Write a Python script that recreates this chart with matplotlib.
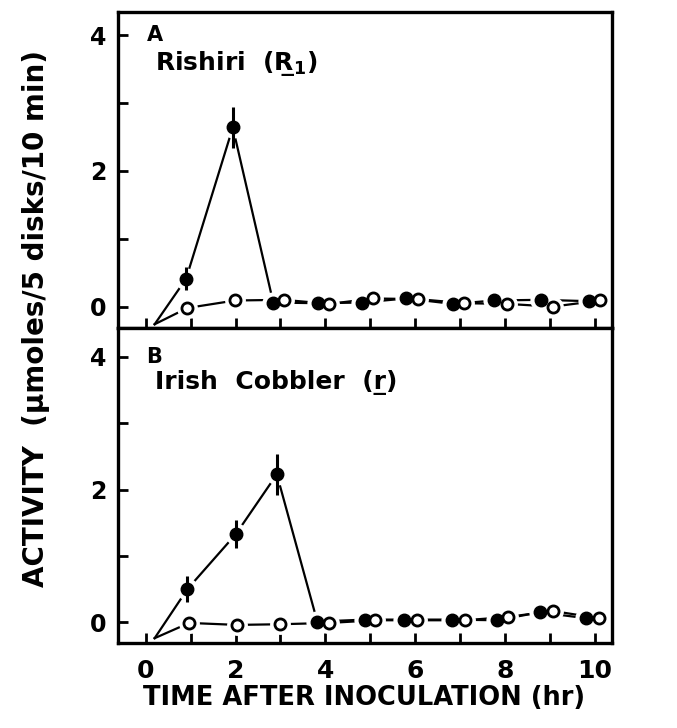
import matplotlib
matplotlib.use('Agg')
import matplotlib.pyplot as plt

# Dati (tempo in hr, attivita')
# Pannello A - Rishiri
A_origin_t, A_origin_y = 0.2, -0.26
A_fill_t = [0.90, 1.94, 2.84, 3.84, 4.81, 5.80, 6.84, 7.76, 8.80, 9.86]
A_fill_y = [0.41, 2.64, 0.06, 0.05, 0.06, 0.12, 0.04, 0.09, 0.10, 0.08]
A_fill_err = [0.17, 0.30, 0, 0, 0, 0, 0, 0, 0, 0]
A_open_t = [0.93, 1.99, 3.07, 4.09, 5.07, 6.07, 7.09, 8.04, 9.06, 10.12]
A_open_y = [-0.02, 0.09, 0.10, 0.04, 0.12, 0.11, 0.05, 0.04, 0.00, 0.09]

# Pannello B - Irish Cobbler
B_origin_t, B_origin_y = 0.2, -0.24
B_fill_t = [0.93, 2.01, 2.92, 3.82, 4.88, 5.75, 6.81, 7.82, 8.77, 9.81]
B_fill_y = [0.50, 1.33, 2.23, 0.01, 0.04, 0.04, 0.04, 0.03, 0.15, 0.06]
B_fill_err = [0.20, 0.21, 0.31, 0, 0, 0, 0, 0, 0, 0]
B_open_t = [0.97, 2.03, 2.99, 4.09, 5.11, 6.04, 7.10, 8.06, 9.06, 10.10]
B_open_y = [-0.01, -0.04, -0.03, -0.01, 0.03, 0.03, 0.03, 0.08, 0.17, 0.06]

x_ticks = list(range(0, 11))
x_labels = ['0', '', '2', '', '4', '', '6', '', '8', '', '10']
y_ticks = [0, 1, 2, 3, 4]
y_labels = ['0', '', '2', '', '4']

plt.rcParams['font.family'] = 'DejaVu Sans'
plt.rcParams['font.weight'] = 'bold'

fig = plt.figure(figsize=(6.77, 7.28), dpi=100)
axA = fig.add_axes([0.174, 0.549, 0.730, 0.4345])
axB = fig.add_axes([0.174, 0.117, 0.730, 0.432])


def disegna(ax, t0, y0, ft, fy, fe, ot, oy, ylim, lettera, testo, testo_y):
    lw = 1.6
    # linee (partono dall'origine senza marker)
    ax.plot([t0] + ft, [y0] + fy, color='k', lw=lw, zorder=1)
    ax.plot([t0] + ot, [y0] + oy, color='k', lw=lw, zorder=1)
    # alone bianco per lasciare lo spazio tra linea e marker
    ax.plot(ft, fy, 'o', color='white', ms=16, mec='none', zorder=2)
    ax.plot(ot, oy, 'o', color='white', ms=15, mec='none', zorder=2)
    # barre d'errore
    ax.errorbar(ft, fy, yerr=fe, fmt='none', ecolor='k', elinewidth=2.2,
                capsize=0, zorder=3)
    # marker
    ax.plot(ft, fy, 'o', color='k', ms=9, mec='k', zorder=4)
    ax.plot(ot, oy, 'o', mfc='white', mec='k', ms=8, mew=2.0, zorder=4)

    ax.set_xlim(-0.62, 10.38)
    ax.set_ylim(*ylim)
    ax.set_xticks(x_ticks)
    ax.set_yticks(y_ticks)
    ax.set_yticklabels(y_labels, fontsize=17, fontweight='bold')
    ax.tick_params(direction='in', length=7, width=2, top=False, right=False)
    ax.tick_params(axis='y', pad=8)
    ax.tick_params(axis='x', pad=12)
    for sp in ax.spines.values():
        sp.set_linewidth(2.4)
    ax.text(0.02, 4.0, lettera, fontsize=15, fontweight='bold', va='center', ha='left')
    ax.text(0.2, testo_y, testo, fontsize=18, fontweight='bold', va='center', ha='left')


disegna(axA, A_origin_t, A_origin_y, A_fill_t, A_fill_y, A_fill_err,
        A_open_t, A_open_y, (-0.32, 4.34), 'A',
        'Rishiri  (R\u0332$_{\\mathbf{1}}$)', 3.58)
disegna(axB, B_origin_t, B_origin_y, B_fill_t, B_fill_y, B_fill_err,
        B_open_t, B_open_y, (-0.31, 4.43), 'B',
        'Irish  Cobbler  (r\u0332)', 3.62)

axA.set_xticklabels([])
axB.set_xticklabels(x_labels, fontsize=18, fontweight='bold')

fig.text(0.538, 0.041, 'TIME AFTER INOCULATION (hr)', fontsize=18.5,
         fontweight='bold', ha='center', va='center')
fig.text(0.053, 0.563, 'ACTIVITY  (\u03bcmoles/5 disks/10 min)', fontsize=20,
         fontweight='bold', ha='center', va='center', rotation=90)

fig.savefig('out.png', dpi=100)
